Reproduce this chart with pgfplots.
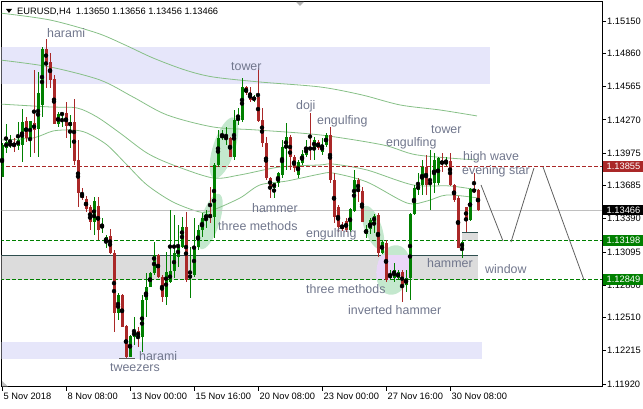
\documentclass[border=0pt]{standalone}
\usepackage{fontspec}
\setmainfont{Liberation Sans}
\usepackage{pgfplots}
\pgfplotsset{compat=1.18}
\usepackage{pgfplotstable}
\usetikzlibrary{shapes.geometric}

\definecolor{bull}{RGB}{0,128,0}
\definecolor{bear}{RGB}{170,40,40}
\definecolor{zone}{RGB}{230,230,250}
\definecolor{gapbox}{RGB}{220,220,220}
\definecolor{edge}{RGB}{47,79,79}
\definecolor{mint}{RGB}{196,232,206}
\definecolor{lilac}{RGB}{234,214,248}
\definecolor{maline}{RGB}{135,192,135}
\definecolor{note}{RGB}{112,118,140}
\definecolor{bidline}{RGB}{192,192,192}
\definecolor{proj}{RGB}{96,96,96}

\newcommand\ticksize{\fontsize{9.3}{11}\selectfont}
\newcommand\notesize{\fontsize{12.4}{14}\selectfont}

% EURUSD H4 candles, n = bar number (n=1 is 5 Nov 16:00)
\pgfplotstableread{
n o h l c
1 1.13762 1.14064 1.13762 1.14047
2 1.14020 1.14233 1.13975 1.14073
3 1.14038 1.14136 1.14020 1.14064
5 1.14038 1.14251 1.14002 1.14091
6 1.14047 1.14367 1.13895 1.14251
8 1.14100 1.14260 1.13940 1.14260
10 1.14189 1.14696 1.13940 1.14509
11 1.14403 1.14919 1.14296 1.14901
15 1.14233 1.14340 1.14207 1.14322
16 1.14314 1.14331 1.14207 1.14331
18 1.14216 1.14314 1.14020 1.14251
24 1.13361 1.13584 1.13246 1.13548
26 1.13308 1.13397 1.13263 1.13335
27 1.13183 1.13246 1.13130 1.13228
30 1.12551 1.12729 1.12489 1.12712
33 1.12160 1.12356 1.12160 1.12347
34 1.12338 1.12516 1.12267 1.12391
36 1.12338 1.12712 1.12204 1.12667
37 1.12667 1.12907 1.12516 1.12783
38 1.12783 1.12916 1.12783 1.12907
39 1.12907 1.13183 1.12890 1.13068
42 1.12694 1.13094 1.12623 1.12916
43 1.12827 1.13468 1.12818 1.12925
44 1.12925 1.13424 1.12863 1.13085
45 1.13050 1.13335 1.12961 1.13139
46 1.13139 1.13406 1.13130 1.13317
48 1.12863 1.13139 1.12685 1.12890
49 1.12890 1.13397 1.12872 1.13139
50 1.13139 1.13335 1.13112 1.13290
51 1.13290 1.13441 1.13228 1.13397
52 1.13388 1.13468 1.13308 1.13432
54 1.13406 1.13886 1.13219 1.13869
55 1.13869 1.14180 1.13851 1.14109
56 1.14109 1.14180 1.14091 1.14144
57 1.14100 1.14207 1.14047 1.14118
59 1.13940 1.14358 1.13913 1.14269
60 1.14269 1.14376 1.14225 1.14287
61 1.14269 1.14643 1.14251 1.14563
64 1.14447 1.14492 1.14429 1.14474
69 1.13664 1.13708 1.13575 1.13708
70 1.13708 1.13806 1.13673 1.13797
71 1.13780 1.14091 1.13753 1.14029
72 1.14020 1.14242 1.13824 1.14118
75 1.13780 1.13913 1.13753 1.13895
76 1.13886 1.14002 1.13869 1.13966
77 1.13958 1.14091 1.13940 1.14029
79 1.14020 1.14118 1.13913 1.14091
81 1.13984 1.14109 1.13958 1.14047
82 1.14047 1.14153 1.14029 1.14136
88 1.13290 1.13486 1.13272 1.13477
89 1.13459 1.13824 1.13450 1.13735
92 1.13254 1.13335 1.13219 1.13299
93 1.13299 1.13397 1.13254 1.13379
94 1.13361 1.13432 1.13263 1.13415
96 1.13085 1.13201 1.13076 1.13183
98 1.12863 1.12934 1.12845 1.12898
99 1.12863 1.12996 1.12827 1.12934
100 1.12863 1.12934 1.12845 1.12916
102 1.12801 1.12934 1.12738 1.12863
103 1.12863 1.13441 1.12667 1.13432
104 1.13432 1.13691 1.13424 1.13664
105 1.13646 1.13797 1.13602 1.13691
106 1.13691 1.13913 1.13602 1.13851
108 1.13699 1.14002 1.13468 1.13717
109 1.13708 1.13975 1.13619 1.13913
110 1.13708 1.13940 1.13691 1.13931
112 1.13877 1.13940 1.13860 1.13904
116 1.13130 1.13201 1.13041 1.13183
118 1.13379 1.13660 1.13370 1.13655
}\bulltab

\pgfplotstableread{
n o h l c
4 1.14064 1.14109 1.13984 1.14038
7 1.14260 1.14296 1.14073 1.14109
9 1.14242 1.14714 1.13975 1.14180
12 1.14901 1.14990 1.14554 1.14785
13 1.14785 1.14865 1.14554 1.14625
14 1.14634 1.14670 1.14233 1.14233
17 1.14331 1.14429 1.14109 1.14216
19 1.14251 1.14456 1.13869 1.13904
20 1.13913 1.14091 1.13495 1.13619
21 1.13610 1.13664 1.13557 1.13575
22 1.13566 1.13593 1.13450 1.13477
23 1.13495 1.13513 1.13290 1.13361
25 1.13504 1.13584 1.13201 1.13290
28 1.13237 1.13299 1.13076 1.13085
29 1.13085 1.13112 1.12382 1.12551
31 1.12712 1.12720 1.12427 1.12427
32 1.12436 1.12445 1.12151 1.12160
35 1.12391 1.12427 1.12249 1.12338
40 1.13068 1.13076 1.12863 1.12872
41 1.12872 1.12890 1.12649 1.12694
47 1.13317 1.13450 1.12827 1.12845
53 1.13432 1.13673 1.13352 1.13397
58 1.14109 1.14118 1.13940 1.13940
62 1.14563 1.14572 1.14492 1.14509
63 1.14509 1.14563 1.14429 1.14447
65 1.14474 1.14732 1.14251 1.14260
66 1.14269 1.14376 1.14029 1.14064
67 1.14064 1.14118 1.13735 1.13753
68 1.13753 1.13762 1.13575 1.13673
73 1.14118 1.14136 1.13824 1.13940
74 1.13940 1.13958 1.13806 1.13842
78 1.14029 1.14331 1.13913 1.14002
80 1.14073 1.14091 1.14002 1.14020
83 1.14136 1.14207 1.13708 1.13735
84 1.13735 1.13797 1.13352 1.13406
85 1.13495 1.13513 1.13272 1.13317
86 1.13335 1.13361 1.13281 1.13299
87 1.13370 1.13397 1.13272 1.13290
90 1.13735 1.13753 1.13539 1.13628
91 1.13637 1.13673 1.13361 1.13361
95 1.13424 1.13441 1.13050 1.13085
97 1.13174 1.13201 1.12827 1.12845
101 1.12916 1.12934 1.12649 1.12801
107 1.13851 1.13958 1.13602 1.13691
111 1.13904 1.13975 1.13806 1.13877
113 1.13904 1.13975 1.13682 1.13691
114 1.13691 1.13700 1.13539 1.13557
115 1.13575 1.13590 1.13130 1.13135
117 1.13495 1.13500 1.13272 1.13379
119 1.13655 1.13797 1.13619 1.13628
120 1.13650 1.13656 1.13456 1.13466
}\beartab

\pgfplotsset{
  candle/.style n args={2}{only marks, mark=none, forget plot,
    error bars/.cd, y dir=both, y explicit, error mark=none,
    error bar style={line width=#2, draw=#1}},
}
\tikzset{
  note/.style={font=\notesize, text=note, inner sep=0pt, anchor=base west},
  pbox/.style={anchor=west, text=white, font=\ticksize, inner xsep=3.5pt,
    inner ysep=0pt, minimum height=10.5pt},
  blob/.style={ellipse, fill=#1, inner sep=0pt},
}

\begin{document}
\begin{tikzpicture}
\path[use as bounding box] (0,0) rectangle (643pt,409pt);
\begin{axis}[
    at={(1.5pt,22pt)}, anchor=south west, scale only axis,
    width=600.5pt, height=385pt,
    xmin=0.875, xmax=151, ymin=1.118927, ymax=1.153192,
    axis line style={black, line width=1pt},
    tick align=outside, major tick length=4pt,
    tick style={black, line width=0.8pt},
    xtick pos=left, ytick pos=right, yticklabel pos=right,
    xtick={1,17,33,49,65,81,97,113},
    xticklabels={5 Nov 2018, 8 Nov 08:00, 13 Nov 00:00, 15 Nov 16:00,
                 20 Nov 08:00, 23 Nov 00:00, 27 Nov 16:00, 30 Nov 08:00},
    ytick={1.15150,1.14860,1.14565,1.14270,1.13975,1.13685,1.13390,
           1.13095,1.12800,1.12510,1.12215,1.11920},
    yticklabels={1.15150,1.14860,1.14565,1.14270,1.13975,1.13685,1.13390,
           1.13095,1.12800,1.12510,1.12215,1.11920},
    xticklabel style={anchor=north west, inner sep=0pt, xshift=1.5pt,
                      yshift=-1.5pt, font=\ticksize},
    yticklabel style={anchor=west, inner sep=0pt, xshift=1pt, font=\ticksize},
  ]

  % zones
  \fill[zone] (axis cs:0.5,1.14919) rectangle (axis cs:123,1.14589);
  \fill[zone] (axis cs:0.5,1.12293) rectangle (axis cs:121,1.12142);
  \fill[gapbox] (axis cs:0.5,1.13065) rectangle (axis cs:120,1.12849);
  \draw[edge, line width=1pt] (axis cs:0.5,1.13065) -- (axis cs:120,1.13065);
  \fill[gapbox] (axis cs:116,1.13270) rectangle (axis cs:120,1.13200);
  \draw[edge, line width=1pt] (axis cs:116,1.13270) -- (axis cs:120,1.13270);

  % highlight ellipses
  \node[blob=mint, minimum width=64pt, minimum height=22pt, rotate=72]
    at (axis cs:56.5,1.14020) {};
  \node[blob=mint, minimum width=58pt, minimum height=19pt, rotate=72]
    at (axis cs:53,1.13366) {};
  \node[blob=mint, minimum width=46pt, minimum height=17pt, rotate=-70]
    at (axis cs:93.75,1.13312) {};
  \node[blob=mint, minimum width=34pt, minimum height=50pt, rotate=-10]
    at (axis cs:98.875,1.12934) {};
  \begin{scope}
    \clip (axis cs:0.5,1.13065) rectangle (axis cs:120,1.12849);
    \node[blob=lilac, minimum width=34pt, minimum height=50pt, rotate=-10]
      at (axis cs:98.875,1.12934) {};
  \end{scope}

  % moving averages
  \addplot[maline, line width=0.8pt, smooth] coordinates {
    (0.5,1.15221) (13,1.15159) (24.75,1.15043) (31.75,1.14937)
    (38.75,1.14821) (46.75,1.14714) (53.75,1.14652) (65.5,1.14607)
    (80.5,1.14563) (91,1.14492) (100.5,1.14403) (110.5,1.14358)
    (119.75,1.14305)};
  \addplot[maline, line width=0.8pt, smooth] coordinates {
    (0.5,1.14803) (13,1.14741) (25.5,1.14625) (33.75,1.14474)
    (42.25,1.14314) (53.75,1.14207) (64.75,1.14180) (80.5,1.14136)
    (96.25,1.14047) (104.75,1.13958) (119.75,1.13913)};
  \addplot[maline, line width=0.8pt, smooth] coordinates {
    (0.5,1.14411) (13,1.14385) (19.75,1.14376) (24.75,1.14296)
    (30.5,1.14153) (37.25,1.13975) (43.75,1.13869) (53.75,1.13753)
    (60.5,1.13780) (70.5,1.13851) (80.5,1.13869) (83.75,1.13877)
    (92.25,1.13824) (103.75,1.13691) (113,1.13682) (120,1.13646)};
  \addplot[maline, line width=0.8pt, smooth] coordinates {
    (0.5,1.14091) (8.75,1.14109) (13.75,1.14171) (18.75,1.14180)
    (22.25,1.14153) (27.25,1.14047) (32.25,1.13869) (37.25,1.13691)
    (43.75,1.13539) (50.5,1.13450) (53.75,1.13468) (60.5,1.13575)
    (65.5,1.13691) (72.25,1.13726) (80.5,1.13788) (83.75,1.13797)
    (92.25,1.13717) (102.25,1.13530) (107.25,1.13548) (112.25,1.13602)
    (120,1.13575)};

  % horizontal levels
  \addplot[bidline, line width=1pt] coordinates {(0.5,1.13466) (151,1.13466)};
  \addplot[bear, line width=1pt, dash pattern=on 4pt off 2pt]
    coordinates {(0.5,1.13855) (151,1.13855)};
  \addplot[bull, line width=1pt, dash pattern=on 4pt off 2pt]
    coordinates {(0.5,1.13198) (151,1.13198)};
  \addplot[bull, line width=1pt, dash pattern=on 4pt off 2pt]
    coordinates {(0.5,1.12849) (151,1.12849)};

  % projected path and tweezers mark
  \addplot[proj, line width=0.8pt] coordinates {(120.75,1.13691) (126.25,1.13192)};
  \addplot[proj, line width=0.8pt] coordinates {(128.25,1.13183) (134,1.13842)};
  \addplot[proj, line width=0.8pt] coordinates {(136.25,1.13851) (146.5,1.12845)};
  \addplot[proj, line width=1pt] coordinates {(30.3,1.12142) (34.25,1.12142)};

  % candles: wicks then bodies
  \addplot[candle={bull}{1pt}] table[x=n, y expr={(\thisrow{h}+\thisrow{l})/2},
    y error expr={(\thisrow{h}-\thisrow{l})/2}] {\bulltab};
  \addplot[candle={bear}{1pt}] table[x=n, y expr={(\thisrow{h}+\thisrow{l})/2},
    y error expr={(\thisrow{h}-\thisrow{l})/2}] {\beartab};
  \addplot[candle={bull}{3pt}] table[x=n, y expr={(\thisrow{o}+\thisrow{c})/2},
    y error expr={abs(\thisrow{c}-\thisrow{o})/2}] {\bulltab};
  \addplot[candle={bear}{3pt}] table[x=n, y expr={(\thisrow{o}+\thisrow{c})/2},
    y error expr={abs(\thisrow{c}-\thisrow{o})/2}] {\beartab};

  % pattern notes
  \node[note] at (axis cs:12.25,1.14999) {harami};
  \node[note] at (axis cs:58.25,1.14710) {tower};
  \node[note] at (axis cs:74.5,1.14358) {doji};
  \node[note] at (axis cs:79.75,1.14233) {engulfing};
  \node[note] at (axis cs:108.25,1.14153) {tower};
  \node[note] at (axis cs:97,1.14029) {engulfing};
  \node[note] at (axis cs:116.25,1.13909) {high wave};
  \node[note] at (axis cs:116,1.13788) {evening star};
  \node[note] at (axis cs:63.5,1.13446) {hammer};
  \node[note] at (axis cs:55,1.13286) {three methods};
  \node[note] at (axis cs:77,1.13219) {engulfing};
  \node[note] at (axis cs:77,1.12729) {three methods};
  \node[note] at (axis cs:107.25,1.12952) {hammer};
  \node[note] at (axis cs:121.75,1.12907) {window};
  \node[note] at (axis cs:87.5,1.12534) {inverted hammer};
  \node[note] at (axis cs:35.25,1.12129) {harami};
  \node[note] at (axis cs:28,1.12031) {tweezers};

  \coordinate (p1) at (axis cs:151,1.13855);
  \coordinate (p2) at (axis cs:151,1.13466);
  \coordinate (p3) at (axis cs:151,1.13198);
  \coordinate (p4) at (axis cs:151,1.12849);
\end{axis}

\node[pbox, fill=bear] at ([xshift=1pt]p1) {1.13855};
\node[pbox, fill=black] at ([xshift=1pt]p2) {1.13466};
\node[pbox, fill=bull] at ([xshift=1pt]p3) {1.13198};
\node[pbox, fill=bull] at ([xshift=1pt]p4) {1.12849};

\fill (6pt,400pt) -- (12pt,400pt) -- (9pt,396pt) -- cycle;
\node[anchor=base west, inner sep=0pt, font=\ticksize] at (17pt,394.5pt)
  {EURUSD,H4\hspace{5pt}1.13650 1.13656 1.13456 1.13466};
\fill[gray!60] (296pt,407pt) -- (304pt,407pt) -- (300pt,403pt) -- cycle;
\fill[gray!50] (2pt,22.5pt) -- (8pt,22.5pt) -- (2pt,28pt) -- cycle;
\end{tikzpicture}
\end{document}
